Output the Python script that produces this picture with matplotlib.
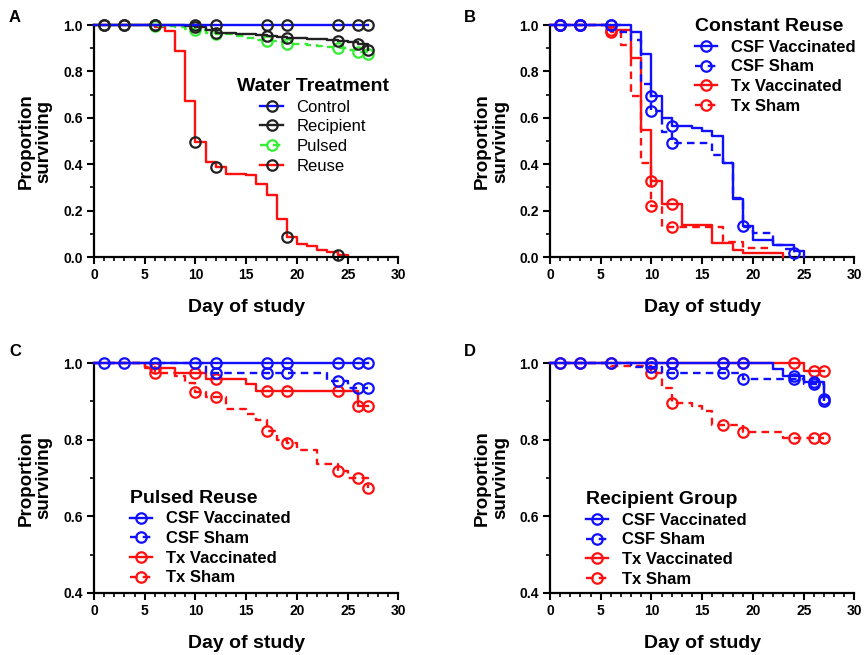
import matplotlib
matplotlib.use('Agg')
import matplotlib.pyplot as plt
from matplotlib.ticker import MultipleLocator, FormatStrFormatter
from matplotlib.lines import Line2D
import numpy as np

plt.rcParams['font.family'] = ['Liberation Sans', 'DejaVu Sans']

# ---------------- data (Kaplan-Meier steps) ----------------
days_full = [1, 3, 6, 10, 12, 17, 19, 24, 26, 27]

# A - water treatment
a_control_t = [0]
a_control_s = [1.0]
a_control_end = 27
a_control_cens = days_full

a_recip_t = [0, 9, 10, 11, 12, 14, 16, 17, 18, 19, 21, 23, 24, 25, 26, 27]
a_recip_s = [1.0, 0.995, 0.99, 0.978, 0.964, 0.96, 0.955, 0.953, 0.948, 0.943, 0.94, 0.935, 0.93, 0.925, 0.917, 0.893]
a_recip_end = 27
a_recip_cens = days_full

a_pulsed_t = [0, 6, 8, 9, 10, 11, 12, 14, 15, 16, 17, 18, 19, 21, 22, 23, 24, 25, 26, 27]
a_pulsed_s = [1.0, 0.995, 0.99, 0.985, 0.978, 0.967, 0.96, 0.952, 0.944, 0.936, 0.93, 0.925, 0.92, 0.914, 0.909, 0.904, 0.9, 0.892, 0.882, 0.873]
a_pulsed_end = 27
a_pulsed_cens = [6, 10, 12, 17, 19, 24, 26, 27]

a_reuse_t = [0, 6, 7, 8, 9, 10, 11, 12, 13, 15, 16, 17, 18, 19, 20, 21, 22, 23, 24, 25]
a_reuse_s = [1.0, 0.99, 0.975, 0.89, 0.673, 0.496, 0.41, 0.386, 0.36, 0.353, 0.314, 0.266, 0.166, 0.085, 0.058, 0.046, 0.032, 0.02, 0.01, 0.0]
a_reuse_end = 25
a_reuse_cens = [10, 12, 19, 24]

# B - constant reuse
b_csfv_t = [0, 8, 9, 10, 11, 12, 14, 15, 16, 17, 18, 19, 20, 22, 24, 25]
b_csfv_s = [1.0, 0.97, 0.876, 0.694, 0.601, 0.565, 0.557, 0.545, 0.52, 0.406, 0.25, 0.135, 0.075, 0.05, 0.026, 0.0]
b_csfv_end = 25
b_csfv_cens = [1, 3, 6, 10, 12, 19]

b_csfs_t = [0, 7, 8, 9, 10, 11, 12, 16, 17, 18, 19, 20, 22, 23, 24]
b_csfs_s = [1.0, 0.97, 0.935, 0.745, 0.63, 0.54, 0.493, 0.44, 0.405, 0.256, 0.13, 0.104, 0.05, 0.035, 0.019]
b_csfs_end = 24
b_csfs_cens = [1, 3, 6, 10, 12, 24]

b_txv_t = [0, 6, 8, 9, 10, 11, 13, 16, 18, 19, 23]
b_txv_s = [1.0, 0.98, 0.859, 0.548, 0.328, 0.23, 0.138, 0.062, 0.03, 0.016, 0.0]
b_txv_end = 23
b_txv_cens = [1, 3, 6, 10, 12]

b_txs_t = [0, 6, 7, 8, 9, 10, 11, 17, 19]
b_txs_s = [1.0, 0.972, 0.914, 0.695, 0.406, 0.222, 0.128, 0.066, 0.04]
b_txs_end = 22
b_txs_cens = [1, 3, 6, 10, 12]

# C - pulsed reuse
c_csfv_t = [0]
c_csfv_s = [1.0]
c_csfv_end = 27
c_csfv_cens = days_full

c_csfs_t = [0, 11, 23, 25]
c_csfs_s = [1.0, 0.973, 0.954, 0.934]
c_csfs_end = 27
c_csfs_cens = [12, 17, 19, 24, 26, 27]

c_txv_t = [0, 5, 8, 11, 15, 16, 26]
c_txv_s = [1.0, 0.988, 0.975, 0.959, 0.944, 0.927, 0.887]
c_txv_end = 27
c_txv_cens = [6, 10, 12, 17, 19, 24, 26, 27]

c_txs_t = [0, 5, 6, 8, 9, 10, 11, 13, 15, 16, 17, 18, 19, 20, 22, 24, 25, 27]
c_txs_s = [1.0, 0.99, 0.975, 0.965, 0.948, 0.925, 0.91, 0.881, 0.868, 0.851, 0.823, 0.80, 0.79, 0.773, 0.736, 0.718, 0.70, 0.673]
c_txs_end = 27
c_txs_cens = [6, 10, 12, 17, 19, 24, 26, 27]

# D - recipient group
d_csfv_t = [0, 22, 23, 25, 27]
d_csfv_s = [1.0, 0.985, 0.967, 0.95, 0.905]
d_csfv_end = 27
d_csfv_cens = days_full

d_csfs_t = [0, 8, 11, 19, 25, 27]
d_csfs_s = [1.0, 0.99, 0.973, 0.957, 0.945, 0.9]
d_csfs_end = 27
d_csfs_cens = [10, 12, 17, 19, 24, 26, 27]

d_txv_t = [0, 25]
d_txv_s = [1.0, 0.98]
d_txv_end = 27
d_txv_cens = days_full

d_txs_t = [0, 6, 10, 11, 12, 14, 15, 16, 19, 23]
d_txs_s = [1.0, 0.992, 0.975, 0.935, 0.895, 0.888, 0.875, 0.838, 0.821, 0.804]
d_txs_end = 27
d_txs_cens = [10, 12, 17, 19, 24, 26, 27]

labels4 = ['CSF Vaccinated', 'CSF Sham', 'Tx Vaccinated', 'Tx Sham']

BLUE = '#1010ff'
RED = '#ff1010'
GREEN = '#33ee33'
BLACK = '#222222'
DASH = (0, (3.2, 2.2))


def km(ax, t, s, end, cens, color, ls='-', mcolor=None, z=2):
    mcolor = mcolor or color
    t = np.asarray(t, float)
    s = np.asarray(s, float)
    ax.step(np.r_[t, end], np.r_[s, s[-1]], where='post', color=color,
            lw=1.7, ls=ls, zorder=z, clip_on=False)
    idx = np.searchsorted(t, cens, side='right') - 1
    ax.plot(cens, s[idx], 'o', ms=7.5, mfc='none', mec=mcolor, mew=1.6,
            zorder=z + 0.5, clip_on=False)


def style(ax, ymin):
    for sp in ['top', 'right']:
        ax.spines[sp].set_visible(False)
    for sp in ['left', 'bottom']:
        ax.spines[sp].set_linewidth(1.6)
    ax.set_xlim(0, 30)
    ax.set_ylim(ymin, 1.0)
    ax.xaxis.set_major_locator(MultipleLocator(5))
    ax.xaxis.set_minor_locator(MultipleLocator(1))
    ax.yaxis.set_major_locator(MultipleLocator(0.2))
    ax.yaxis.set_minor_locator(MultipleLocator(0.1))
    ax.yaxis.set_major_formatter(FormatStrFormatter('%.1f'))
    ax.tick_params(which='major', length=5, width=1.5, labelsize=10, pad=3)
    ax.tick_params(which='minor', length=3, width=1.2)
    ax.set_xlabel('Day of study', fontsize=14, fontweight='bold', labelpad=12)
    ax.set_ylabel('Proportion\nsurviving', fontsize=13.5, fontweight='bold',
                  linespacing=1.05)
    ax.yaxis.set_label_coords(-0.135, 0.5)


def handle(color, ls, mcolor=None):
    return Line2D([], [], color=color, ls=ls, lw=1.7, marker='o', ms=7.5,
                  mfc='none', mec=mcolor or color, mew=1.6)


leg_kw = dict(loc='upper left', frameon=False, handlelength=1.35, handletextpad=0.8,
              labelspacing=0.28, borderpad=0, borderaxespad=0,
              title_fontproperties={'weight': 'bold', 'size': 14})

fig = plt.figure(figsize=(8.66, 6.55), dpi=100)
axA = fig.add_axes([0.1085, 0.6076, 0.3516, 0.3542])
axB = fig.add_axes([0.6351, 0.6076, 0.3516, 0.3542])
axC = fig.add_axes([0.1085, 0.0947, 0.3516, 0.3511])
axD = fig.add_axes([0.6351, 0.0947, 0.3516, 0.3511])

# A
km(axA, a_reuse_t, a_reuse_s, a_reuse_end, a_reuse_cens, RED, mcolor=BLACK)
km(axA, a_pulsed_t, a_pulsed_s, a_pulsed_end, a_pulsed_cens, GREEN, ls=DASH)
km(axA, a_recip_t, a_recip_s, a_recip_end, a_recip_cens, BLACK, z=3)
km(axA, a_control_t, a_control_s, a_control_end, a_control_cens, BLUE, mcolor=BLACK, z=4)
style(axA, 0.0)
hA = [handle(BLUE, '-', BLACK), handle(BLACK, '-'), handle(GREEN, DASH), handle(RED, '-', BLACK)]
axA.legend(hA, ['Control', 'Recipient', 'Pulsed', 'Reuse'], title='Water Treatment',
           bbox_to_anchor=(0.470, 0.772), fontsize=12, **leg_kw)

# B, C, D
panels = [
    (axB, 0.0, 'Constant Reuse',
     [(b_txs_t, b_txs_s, b_txs_end, b_txs_cens), (b_txv_t, b_txv_s, b_txv_end, b_txv_cens),
      (b_csfs_t, b_csfs_s, b_csfs_end, b_csfs_cens), (b_csfv_t, b_csfv_s, b_csfv_end, b_csfv_cens)],
     (0.476, 1.030)),
    (axC, 0.4, 'Pulsed Reuse',
     [(c_txs_t, c_txs_s, c_txs_end, c_txs_cens), (c_txv_t, c_txv_s, c_txv_end, c_txv_cens),
      (c_csfs_t, c_csfs_s, c_csfs_end, c_csfs_cens), (c_csfv_t, c_csfv_s, c_csfv_end, c_csfv_cens)],
     (0.118, 0.449)),
    (axD, 0.4, 'Recipient Group',
     [(d_txs_t, d_txs_s, d_txs_end, d_txs_cens), (d_txv_t, d_txv_s, d_txv_end, d_txv_cens),
      (d_csfs_t, d_csfs_s, d_csfs_end, d_csfs_cens), (d_csfv_t, d_csfv_s, d_csfv_end, d_csfv_cens)],
     (0.118, 0.443)),
]
styles4 = [(RED, DASH), (RED, '-'), (BLUE, DASH), (BLUE, '-')]
for ax, ymin, title, curves, anchor in panels:
    for z, ((t, s, end, cens), (col, ls)) in enumerate(zip(curves, styles4)):
        km(ax, t, s, end, cens, col, ls=ls, z=2 + z)
    style(ax, ymin)
    if ymin > 0:
        ax.set_yticks([0.4, 0.6, 0.8, 1.0])
    hs = [handle(BLUE, '-'), handle(BLUE, DASH), handle(RED, '-'), handle(RED, DASH)]
    ax.legend(hs, labels4, title=title, bbox_to_anchor=anchor, alignment='left',
              prop={'weight': 'bold', 'size': 12}, **leg_kw)

for ax in [axA, axB, axC, axD]:
    for lab in ax.get_xticklabels() + ax.get_yticklabels():
        lab.set_fontweight('bold')

for x, y, letter in [(15, 18, 'A'), (470, 18, 'B'), (15, 352, 'C'), (470, 352, 'D')]:
    fig.text(x / 866, 1 - y / 655, letter, ha='center', va='center',
             fontsize=12, fontweight='bold')

fig.savefig('out.png', dpi=100)
